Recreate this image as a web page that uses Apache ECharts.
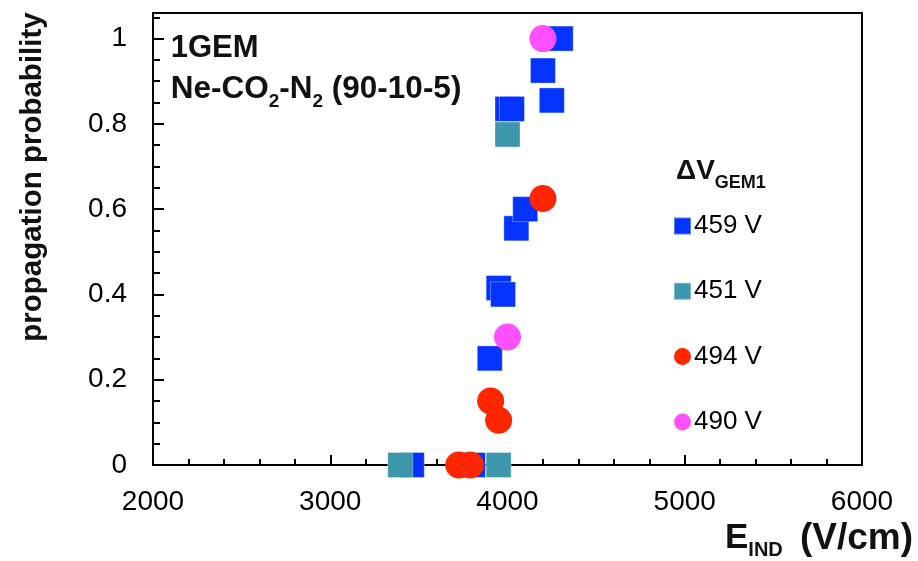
<!DOCTYPE html>
<html>
<head>
<meta charset="utf-8">
<script src="https://cdn.jsdelivr.net/npm/echarts@6/dist/echarts.min.js"></script>
<style>
  html, body { margin: 0; padding: 0; background: #fff; }
  #chart { width: 918px; height: 561px; }
</style>
</head>
<body>
<div id="chart"></div>
<script>
// Induction field (V/cm) and propagation probability, one pair of arrays per GEM1 voltage
const eInd459 = [3460, 3805, 3900, 3950, 3975, 4000, 4025, 4050, 4100, 4200, 4250, 4300];
const prob459 = [0, 0, 0.25, 0.415, 0.40, 0.835, 0.835, 0.555, 0.60, 0.925, 0.855, 1.0];

const eInd451 = [3395, 3950, 4000];
const prob451 = [0, 0, 0.775];

const eInd494 = [3725, 3790, 3905, 3950, 4200];
const prob494 = [0, 0, 0.15, 0.105, 0.625];

const eInd490 = [4000, 4200];
const prob490 = [0.30, 1.0];

const seriesNames = ['459 V', '451 V', '494 V', '490 V'];
const yTickValues = [0, 0.2, 0.4, 0.6, 0.8, 1];
const yMinorTickValues = [0.05, 0.1, 0.15, 0.25, 0.3, 0.35, 0.45, 0.5, 0.55, 0.65, 0.7, 0.75, 0.85, 0.9, 0.95, 1.05];

const FONT = "'Liberation Sans', Arial, Helvetica, sans-serif";
const zip = (xs, ys) => xs.map((x, i) => [x, ys[i]]);

// text measuring for runs of mixed-size text (subscripts)
const measureCtx = document.createElement('canvas').getContext('2d');
function textWidth(text, size) {
  measureCtx.font = 'bold ' + size + 'px ' + FONT;
  return measureCtx.measureText(text).width;
}
function textRun(x0, pieces) {
  let x = x0;
  return pieces.map(p => {
    const left = (p.x !== undefined ? p.x : x);
    const el = {
      type: 'text', x: left, y: p.cy, silent: true,
      style: { text: p.text, fill: '#111', font: 'bold ' + p.size + 'px ' + FONT,
               align: 'left', verticalAlign: 'middle' }
    };
    x = left + textWidth(p.text, p.size);
    return el;
  });
}

const chart = echarts.init(document.getElementById('chart'));

const axisLineStyle = { color: '#000', width: 2 };

const option = {
  animation: false,
  backgroundColor: '#fff',
  grid: { left: 153, right: 56, top: 13, bottom: 96, show: true, borderColor: '#000', borderWidth: 2 },
  xAxis: {
    type: 'value', min: 2000, max: 6000, interval: 1000,
    axisLine: { lineStyle: axisLineStyle },
    axisTick: { inside: true, length: 10, lineStyle: axisLineStyle },
    minorTick: { show: true, splitNumber: 5, length: 6, lineStyle: axisLineStyle },
    splitLine: { show: false },
    axisLabel: { fontSize: 28, color: '#000', fontFamily: FONT, margin: 23,
                 formatter: v => String(v) }
  },
  yAxis: [
    {
      type: 'value', min: 0, max: 1.06, position: 'left',
      axisLine: { show: true, lineStyle: axisLineStyle },
      axisTick: { show: true, inside: true, length: 11, lineStyle: axisLineStyle, customValues: yTickValues },
      splitLine: { show: false },
      axisLabel: { fontSize: 28, color: '#000', fontFamily: FONT, margin: 26, customValues: yTickValues }
    },
    {
      type: 'value', min: 0, max: 1.06, position: 'left', offset: 0,
      axisLine: { show: false },
      axisTick: { show: true, inside: true, length: 7, lineStyle: axisLineStyle, customValues: yMinorTickValues },
      splitLine: { show: false },
      axisLabel: { show: false }
    }
  ],
  legend: {
    orient: 'vertical', left: 673, top: 211, padding: 0,
    itemWidth: 17, itemHeight: 17, itemGap: 35.3, selectedMode: false,
    textStyle: { fontSize: 26, lineHeight: 30, color: '#000', fontFamily: FONT, padding: [0, 0, 0, -2] },
    data: [
      { name: seriesNames[0], icon: 'rect' },
      { name: seriesNames[1], icon: 'rect' },
      { name: seriesNames[2], icon: 'circle' },
      { name: seriesNames[3], icon: 'circle' }
    ]
  },
  series: [
    { name: seriesNames[0], type: 'scatter', symbol: 'rect', symbolSize: 25,
      itemStyle: { color: '#0433FF', opacity: 1, borderColor: 'rgba(255,255,255,0.35)', borderWidth: 1 },
      data: zip(eInd459, prob459) },
    { name: seriesNames[1], type: 'scatter', symbol: 'rect', symbolSize: 25,
      itemStyle: { color: '#3C97AC', opacity: 1, borderColor: 'rgba(255,255,255,0.35)', borderWidth: 1 },
      data: zip(eInd451, prob451) },
    { name: seriesNames[2], type: 'scatter', symbol: 'circle', symbolSize: 27,
      itemStyle: { color: '#FF2600', opacity: 1 },
      data: zip(eInd494, prob494) },
    { name: seriesNames[3], type: 'scatter', symbol: 'circle', symbolSize: 27,
      itemStyle: { color: '#FF4FFF', opacity: 1 },
      data: zip(eInd490, prob490) }
  ],
  graphic: [
    // y-axis title
    { type: 'text', x: 33, y: 177, rotation: Math.PI / 2, silent: true,
      style: { text: 'propagation probability', fill: '#111', font: 'bold 29.5px ' + FONT,
               align: 'center', verticalAlign: 'middle' } },
    // chamber / gas annotation
    ...textRun(170.7, [{ text: '1GEM', size: 31, cy: 48 }]),
    ...textRun(170.7, [
      { text: 'Ne-CO', size: 31.5, cy: 89.2 },
      { text: '2', size: 19, cy: 101.7 },
      { text: '-N', size: 31.5, cy: 89.2 },
      { text: '2', size: 19, cy: 101.7 },
      { text: ' (90-10-5)', size: 31.5, cy: 89.2 }
    ]),
    // legend heading
    ...textRun(676, [
      { text: '\u0394V', size: 28, cy: 171.2 },
      { text: 'GEM1', size: 18, cy: 182.8 }
    ]),
    // x-axis title
    ...textRun(725, [
      { text: 'E', size: 35, cy: 538.3 },
      { text: 'IND', size: 20, cy: 550.5 },
      { text: '(V/cm)', size: 37, cy: 538.3, x: 800 }
    ])
  ]
};

chart.setOption(option);
</script>
</body>
</html>
